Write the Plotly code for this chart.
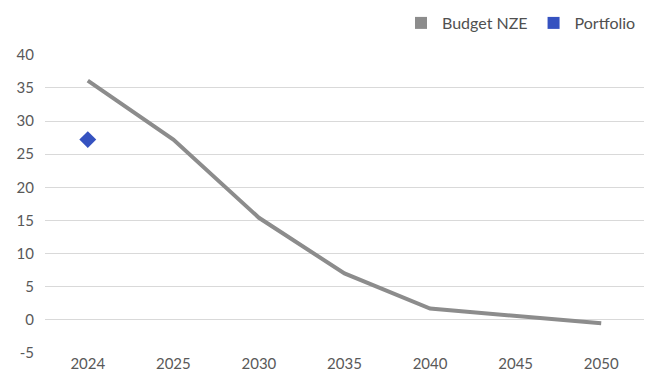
import plotly.graph_objects as go

categories = ["2024", "2025", "2030", "2035", "2040", "2045", "2050"]
budget_nze = [36.1, 27.2, 15.4, 7.0, 1.7, 0.6, -0.5]
portfolio_cat = ["2024"]
portfolio_val = [27.2]
y_ticks = [-5, 0, 5, 10, 15, 20, 25, 30, 35, 40]
y_tick_text = ["-5", "0", "5", "10", "15", "20", "25", "30", "35", "40"]

GRAY = "#8c8c8c"
BLUE = "#3552c0"
TEXT = "#595959"
FONT = "Lato"

fig = go.Figure()
fig.add_trace(go.Scatter(x=categories, y=budget_nze, mode="lines",
                         line=dict(color=GRAY, width=4), showlegend=False,
                         name="Budget NZE"))
fig.add_trace(go.Scatter(x=portfolio_cat, y=portfolio_val, mode="markers",
                         marker=dict(symbol="diamond", size=13, color=BLUE),
                         showlegend=False, name="Portfolio"))
# legend entries (square swatches)
fig.add_trace(go.Scatter(x=[None], y=[None], mode="markers", name="Budget NZE",
                         marker=dict(symbol="square", size=12, color=GRAY)))
fig.add_trace(go.Scatter(x=[None], y=[None], mode="markers", name="Portfolio",
                         marker=dict(symbol="square", size=12, color=BLUE)))

fig.update_layout(
    width=649, height=383,
    margin=dict(l=45, r=5, t=53, b=30),
    paper_bgcolor="white", plot_bgcolor="white",
    font=dict(family=FONT, size=15, color=TEXT),
    legend=dict(orientation="h", xref="container", x=1 - 8 / 649, xanchor="right",
                yref="container", y=1 - 6 / 383, yanchor="top",
                font=dict(size=16, color="#505050"),
                itemwidth=32, bgcolor="rgba(0,0,0,0)"),
    xaxis=dict(type="category", categoryorder="array", categoryarray=categories,
               range=[-0.5, 6.5],
               showgrid=False, zeroline=False, showline=False, ticks="",
               tickfont=dict(size=15, color=TEXT)),
    yaxis=dict(range=[-5, 40], tickvals=y_ticks, ticktext=y_tick_text, showgrid=True,
               gridcolor="#d9d9d9", gridwidth=1, zeroline=False, showline=False,
               ticks="", ticklabelstandoff=10, tickfont=dict(size=15, color=TEXT)),
)
fig.write_html("out.html")
